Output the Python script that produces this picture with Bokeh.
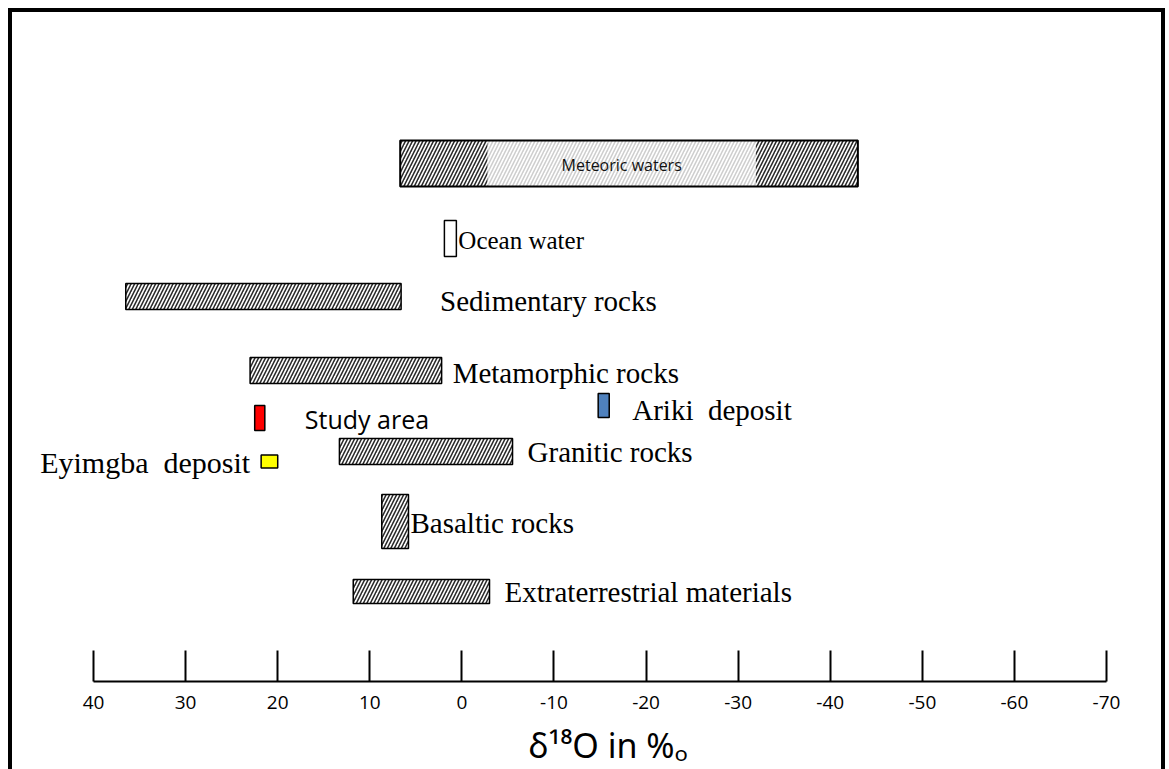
from bokeh.plotting import figure
from bokeh.models import Range1d, FixedTicker, Title, ColumnDataSource
from bokeh.core.properties import value
from bokeh.embed import file_html
from bokeh.resources import INLINE

# ---------------- data: delta 18O ranges (per mil) ----------------
meteoric_name = "Meteoric waters"
meteoric_hi = [6.7]
meteoric_lo = [-43.0]
meteoric_core_hi = [-2.8]
meteoric_core_lo = [-31.9]

ocean_name = "Ocean water"
ocean_hi = [1.9]
ocean_lo = [0.6]

rock_names = ["Sedimentary rocks", "Metamorphic rocks", "Granitic rocks",
              "Basaltic rocks", "Extraterrestrial materials"]
rock_hi = [36.5, 23.0, 13.3, 8.7, 11.8]
rock_lo = [6.6, 2.2, -5.5, 5.8, -3.0]

deposit_names = ["Study area", "Ariki\u00a0 deposit", "Eyimgba\u00a0 deposit"]
deposit_hi = [22.5, -14.8, 21.8]
deposit_lo = [21.4, -16.0, 20.0]

tick_values = [40, 30, 20, 10, 0, -10, -20, -30, -40, -50, -60, -70]
tick_labels = ["40", "30", "20", "10", "0", "-10", "-20", "-30", "-40", "-50", "-60", "-70"]
axis_title = "δ¹⁸O in %ₒ"

# ---------------- layout (vertical pixel rows, label offsets) & styles ----------------
meteoric_row = (163, 46)
ocean_row = (238, 36)
ocean_label = (240, 2)
rock_rows = [(296, 26), (370, 26), (451, 26), (521, 54), (591, 24)]
rock_labels = [(300, 39), (372, 11), (451, 15), (522, 2), (591, 15)]
deposit_rows = [(417.5, 25), (405, 24), (461, 13)]
deposit_labels = [(418, 40, "left"), (409, 23, "left"), (462, -11, "right")]
deposit_colors = ["#ff0000", "#4f81bd", "#ffff00"]
deposit_fonts = ["Open Sans", "Liberation Serif", "Liberation Serif"]
deposit_sizes = ["25px", "29px", "30px"]

SERIF = "Liberation Serif"
SERIF_SIZE = "29px"
HATCH = dict(hatch_pattern="/", hatch_scale=7, hatch_weight=1.6)

W, H = 1157, 769
p = figure(width=W, height=H, output_backend="svg", toolbar_location=None,
           x_range=Range1d(48.80, -76.84), y_range=Range1d(681, 12),
           y_axis_location=None, min_border=0, min_border_bottom=100,
           min_border_left=0, min_border_right=0, min_border_top=0)
p.styles = {"margin-left": "8px", "margin-top": "8px",
            "border-left": "4px solid black", "border-top": "4px solid black",
            "border-right": "4px solid black", "box-sizing": "border-box"}
p.grid.visible = False
p.outline_line_color = None
p.background_fill_color = "white"
p.border_fill_color = "white"

# axis
ax = p.xaxis[0]
ax.ticker = FixedTicker(ticks=tick_values)
ax.major_label_overrides = dict(zip(tick_values, tick_labels))
ax.bounds = (min(tick_values), max(tick_values))
ax.major_tick_in = 31
ax.major_tick_out = 0
ax.minor_tick_line_color = None
ax.axis_line_width = 2
ax.major_tick_line_width = 2
ax.axis_line_color = "black"
ax.major_tick_line_color = "black"
ax.major_label_text_font = "Open Sans"
ax.major_label_text_font_size = "19px"
ax.major_label_text_color = "black"
ax.major_label_standoff = 14

# axis title (below the tick labels)
p.add_layout(Title(text=axis_title, align="left", offset=516, standoff=16,
                   text_font="Noto Sans", text_font_size="34px",
                   text_font_style="normal", text_color="black"), "below")

def row_top(rows):
    return [r[0] - r[1] / 2 for r in rows]

def row_bot(rows):
    return [r[0] + r[1] / 2 for r in rows]

# meteoric waters
p.quad(left=meteoric_hi, right=meteoric_lo, top=row_top([meteoric_row]),
       bottom=row_bot([meteoric_row]), fill_color="white", line_color=None,
       hatch_color="#2b2b2b", **HATCH)
p.quad(left=meteoric_core_hi, right=meteoric_core_lo, top=row_top([meteoric_row]),
       bottom=row_bot([meteoric_row]), fill_color="white", line_color=None,
       hatch_color="#cfcfcf", **HATCH)
p.quad(left=meteoric_hi, right=meteoric_lo, top=row_top([meteoric_row]),
       bottom=row_bot([meteoric_row]), fill_color=None, line_color="black",
       line_width=2)
p.text(x=[(meteoric_core_hi[0] + meteoric_core_lo[0]) / 2], y=[meteoric_row[0] + 1],
       text=[meteoric_name], text_font=value("Open Sans"), text_font_size="16px",
       text_align="center", text_baseline="middle", text_color="#111111")

# ocean water
p.quad(left=ocean_hi, right=ocean_lo, top=row_top([ocean_row]),
       bottom=row_bot([ocean_row]), fill_color="white", line_color="black",
       line_width=1.5)
p.text(x=ocean_lo, y=[ocean_label[0]], x_offset=ocean_label[1], text=[ocean_name],
       text_font=value(SERIF), text_font_size="25px", text_align="left",
       text_baseline="middle", text_color="black")

# rocks
rsrc = ColumnDataSource(dict(hi=rock_hi, lo=rock_lo, top=row_top(rock_rows),
                             bot=row_bot(rock_rows), name=rock_names,
                             ly=[l[0] for l in rock_labels],
                             dx=[l[1] for l in rock_labels]))
p.quad(left="hi", right="lo", top="top", bottom="bot", source=rsrc,
       fill_color="white", line_color="black", line_width=1.5,
       hatch_color="#2b2b2b", **HATCH)
p.text(x="lo", y="ly", x_offset="dx", text="name", source=rsrc,
       text_font=value(SERIF), text_font_size=SERIF_SIZE, text_align="left",
       text_baseline="middle", text_color="black")

# deposits
dsrc = ColumnDataSource(dict(hi=deposit_hi, lo=deposit_lo, top=row_top(deposit_rows),
                             bot=row_bot(deposit_rows), name=deposit_names,
                             color=deposit_colors))
p.quad(left="hi", right="lo", top="top", bottom="bot", source=dsrc,
       fill_color="color", line_color="black", line_width=1.5)
for i, (ly, dx, align) in enumerate(deposit_labels):
    anchor = deposit_lo[i] if align == "left" else deposit_hi[i]
    p.text(x=[anchor], y=[ly], x_offset=dx, text=[deposit_names[i]],
           text_font=value(deposit_fonts[i]), text_font_size=deposit_sizes[i],
           text_align=align, text_baseline="middle", text_color="black")

open("out.html", "w").write(file_html(p, INLINE))
